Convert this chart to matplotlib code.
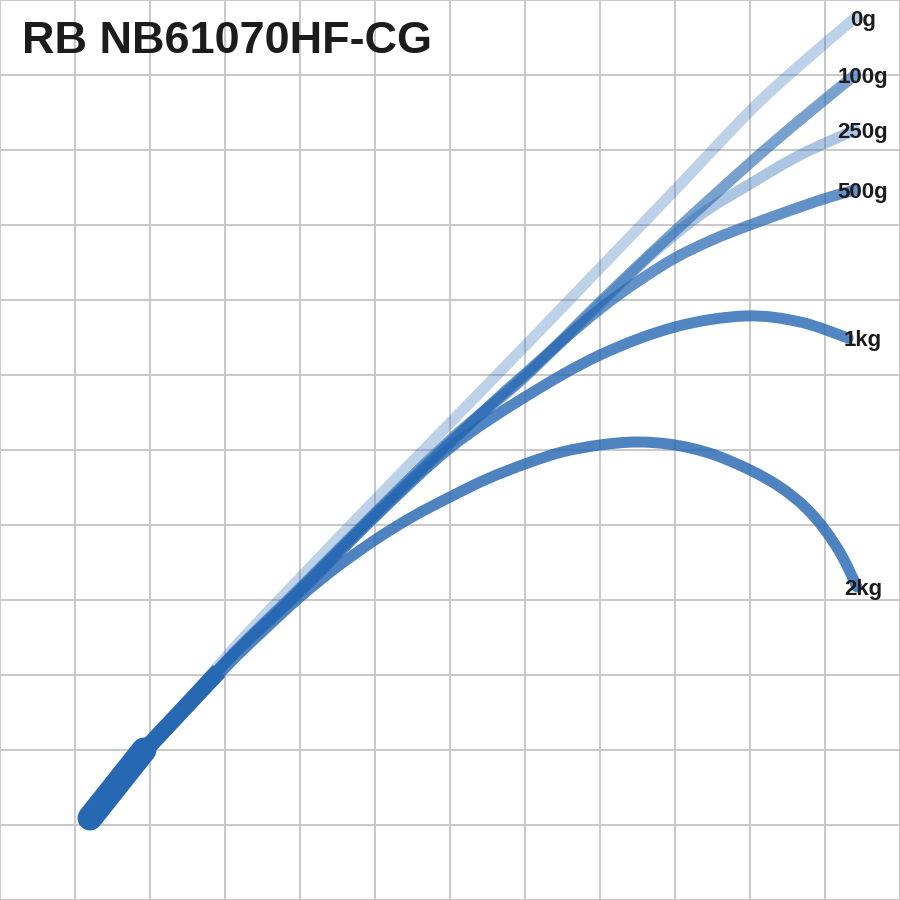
import matplotlib
matplotlib.use("Agg")
import matplotlib.pyplot as plt
from matplotlib.path import Path
from matplotlib.patches import PathPatch

# ---------------- data (x = horizontal distance, y = height; one grid cell = 75) ----
title = "RB NB61070HF-CG"

butt_thick_x = [90, 144]
butt_thick_y = [82, 150]
butt_thin_x = [144, 219]
butt_thin_y = [149, 229]

labels = ["0g", "100g", "250g", "500g", "1kg", "2kg"]

x_0g = [150, 225, 300, 375, 450, 525, 600, 675, 750, 800, 855]
y_0g = [152, 242, 322, 400, 477, 554, 632, 710, 789, 835, 882]

x_100g = [150, 225, 300, 375, 450, 525, 600, 675, 750, 800, 855]
y_100g = [152, 238, 312, 387, 460, 524, 598, 669, 737, 780, 825]

x_250g = [150, 225, 300, 375, 450, 525, 600, 650, 700, 750, 800, 855]
y_250g = [152, 237, 311, 386, 458, 523, 596, 644, 685, 716, 745, 770]

x_500g = [150, 225, 300, 375, 450, 500, 525, 562, 600, 637, 675, 712, 750, 800, 830, 855]
y_500g = [152, 237, 310, 385, 457, 504, 526, 559, 591, 618, 642, 660, 675, 693, 703, 710]

x_1kg = [150, 225, 300, 375, 450, 525, 600, 675, 745, 800, 848]
y_1kg = [152, 237, 308, 383, 452, 503, 545, 573, 584, 578, 562]

x_2kg = [150, 225, 262, 300, 337, 375, 412, 450, 487, 525, 562, 600, 637, 675, 712, 750,
         780, 805, 825, 842, 857]
y_2kg = [152, 232, 268, 303, 333, 360, 383, 403, 421, 436, 448, 455, 458, 455, 446, 430,
         413, 393, 370, 344, 313]

series_x = [x_0g, x_100g, x_250g, x_500g, x_1kg, x_2kg]
series_y = [y_0g, y_100g, y_250g, y_500g, y_1kg, y_2kg]
alphas = [0.30, 0.62, 0.38, 0.72, 0.80, 0.82]

grid_ticks = list(range(0, 901, 75))

# ---------------- style ----------------
BLUE = "#2768b3"
GRID = "#c9c9c9"
TEXT = "#1c1c1c"
PX = 0.72  # points per pixel at dpi 100

plt.rcParams['font.family'] = ['Liberation Sans', 'DejaVu Sans']


def smooth_path(xs, ys):
    """Pass a cubic Bezier (Catmull-Rom tangents) through the read points."""
    pts = list(zip(xs, ys))
    verts = [pts[0]]
    codes = [Path.MOVETO]
    n = len(pts)
    for i in range(n - 1):
        p0 = pts[i - 1] if i > 0 else pts[i]
        p1 = pts[i]
        p2 = pts[i + 1]
        p3 = pts[i + 2] if i + 2 < n else pts[i + 1]
        c1 = (p1[0] + (p2[0] - p0[0]) / 6.0, p1[1] + (p2[1] - p0[1]) / 6.0)
        c2 = (p2[0] - (p3[0] - p1[0]) / 6.0, p2[1] - (p3[1] - p1[1]) / 6.0)
        verts += [c1, c2, p2]
        codes += [Path.CURVE4, Path.CURVE4, Path.CURVE4]
    return Path(verts, codes)


fig = plt.figure(figsize=(9, 9), dpi=100)
ax = fig.add_axes([0, 0, 1, 1])
ax.set_xlim(0, 900)
ax.set_ylim(0, 900)
ax.set_xticks(grid_ticks)
ax.set_yticks(grid_ticks)
ax.tick_params(length=0, labelbottom=False, labelleft=False)
for s in ax.spines.values():
    s.set_visible(False)
ax.grid(True, color=GRID, linewidth=2 * PX, zorder=0)
ax.set_axisbelow(True)

for xs, ys, a in zip(series_x, series_y, alphas):
    patch = PathPatch(smooth_path(xs, ys), facecolor='none', edgecolor=BLUE,
                      alpha=a, linewidth=11 * PX, capstyle='round',
                      joinstyle='round', zorder=2)
    ax.add_patch(patch)

# rod butt
ax.plot(butt_thin_x, butt_thin_y, color=BLUE, linewidth=17 * PX,
        solid_capstyle='butt', zorder=3)
ax.plot(butt_thick_x, butt_thick_y, color=BLUE, linewidth=25 * PX,
        solid_capstyle='round', zorder=4)

# end labels
for lab, xs, ys in zip(labels, series_x, series_y):
    ax.text(863, ys[-1] - 8, lab, ha='center', va='baseline', fontsize=16,
            fontweight='bold', color=TEXT, zorder=5)

ax.text(22, 900 - 53, title, ha='left', va='baseline', fontsize=32.4,
        fontweight='bold', color=TEXT, zorder=5)

fig.savefig("out.png", dpi=100)
